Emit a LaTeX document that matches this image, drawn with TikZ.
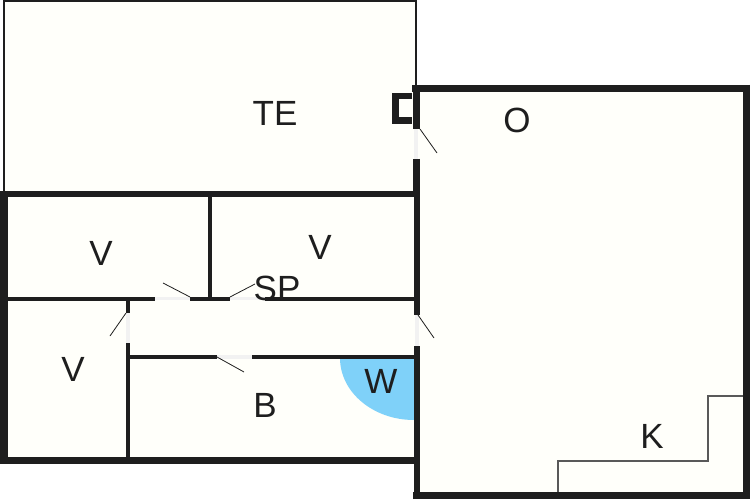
\documentclass[tikz,border=0pt]{standalone}
\usepackage{fontspec}
\setmainfont{Liberation Sans}
\definecolor{floor}{HTML}{FFFFFA}
\definecolor{wetroom}{HTML}{7FD1F9}
\definecolor{wallblack}{HTML}{1E1E1E}
\tikzset{
  outerwall/.style={line width=7pt,draw=wallblack},
  innerwall/.style={line width=4pt,draw=wallblack},
  thinwall/.style={line width=1.5pt,draw=wallblack},
  fixture/.style={line width=1.2pt,draw=black!65},
  leaf/.style={line width=0.8pt,draw=wallblack},
  opening/.style={line width=3.5pt,draw=black!5},
  room/.style={font=\fontsize{35}{35}\selectfont,text=wallblack,inner sep=0pt}
}
\begin{document}
\begin{tikzpicture}[x=1pt,y=-1pt]
                      \useasboundingbox (0,0) rectangle (750,500);
                      \fill[white] (0,0) rectangle (750,500);
                      \fill[floor] (4,1) rectangle (416,461);
                      \fill[floor] (416,88) rectangle (746,495);
                      \fill[wetroom] (340,358) arc[start angle=180,end angle=270,x radius=74,y radius=-62] -- (414,358) -- cycle;
                      \draw[thinwall] (4,192) -- (4,1) -- (416,1) -- (416,88);
                      \draw[outerwall] (416,85) -- (416,129);
                      \draw[outerwall] (416,159) -- (416,197);
                      \draw[outerwall] (412,88.5) -- (750,88.5);
                      \draw[outerwall] (746,85) -- (746,499);
                      \draw[outerwall] (413,495.5) -- (750,495.5);
                      \draw[line width=6pt,draw=wallblack] (0,194) -- (420,194);
                      \draw[line width=8pt,draw=wallblack] (4,191) -- (4,464);
                      \draw[outerwall] (0,460.5) -- (420,460.5);
                      \draw[line width=6.5pt,draw=wallblack] (412,96) -- (395.5,96) -- (395.5,120.5) -- (412,120.5);
                      \draw[line width=6pt,draw=wallblack] (417,193) -- (417,315);
                      \draw[line width=6pt,draw=wallblack] (417,346) -- (417,499);
                      \draw[opening] (416,129) -- (416,159);
                      \draw[opening] (417,315) -- (417,346);
                      \draw[opening] (155,298.5) -- (190,298.5);
                      \draw[opening] (230,298.5) -- (265,298.5);
                      \draw[opening] (128,313) -- (128,343);
                      \draw[opening] (217,357) -- (252,357);
                      \draw[innerwall] (7,298.5) -- (155,298.5);
                      \draw[innerwall] (190,298.5) -- (230,298.5);
                      \draw[innerwall] (265,298.5) -- (414,298.5);
                      \draw[innerwall] (209.5,196) -- (209.5,298);
                      \draw[innerwall] (128,298) -- (128,313);
                      \draw[innerwall] (128,343) -- (128,459);
                      \draw[innerwall] (128,357) -- (217,357);
                      \draw[innerwall] (252,357) -- (414,357);
                      \draw[leaf] (420,129) -- (437,153);
                      \draw[leaf] (190,297) -- (163,283);
                      \draw[leaf] (230,297) -- (255,284);
                      \draw[leaf] (126,313) -- (110,336);
                      \draw[leaf] (217,357) -- (244,372);
                      \draw[leaf] (418,315) -- (434,338);
                      \draw[fixture] (558,492) -- (558,461) -- (708,461) -- (708,396) -- (743,396);
                      \node[room] (te) at (275,113) {TE};
                      \node[room] (o) at (517,120) {O};
                      \node[room] (v_1) at (101,253) {V};
                      \node[room] (v_2) at (320,247) {V};
                      \node[room] (v_3) at (73,369) {V};
                      \node[room] (sp) at (277,288) {SP};
                      \node[room] (w) at (381,381) {W};
                      \node[room] (b) at (265,405) {B};
                      \node[room] (k) at (652,436) {K};
                  \end{tikzpicture}
\end{document}
